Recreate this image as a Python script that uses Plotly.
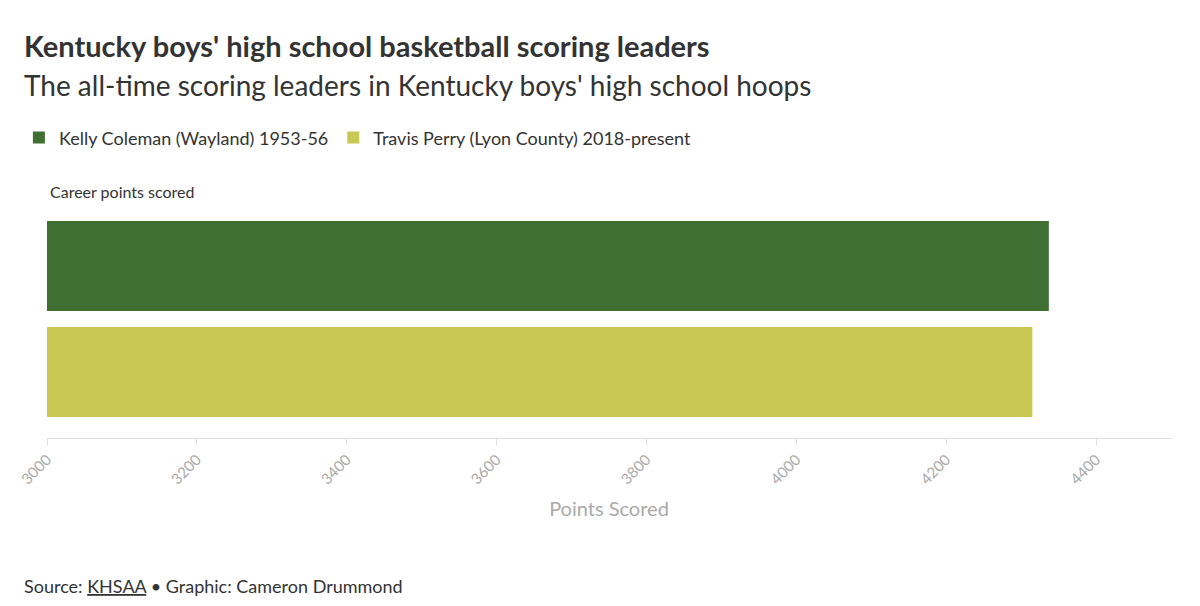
import plotly.graph_objects as go

players = ["Kelly Coleman (Wayland) 1953-56", "Travis Perry (Lyon County) 2018-present"]
points = [4337, 4315]
colors = ["#3f6f33", "#c8c853"]
tick_vals = [3000, 3200, 3400, 3600, 3800, 4000, 4200, 4400]

fig = go.Figure()
for i, (name, pts, col) in enumerate(zip(players, points, colors)):
    fig.add_trace(go.Bar(
        x=[pts - 3000], base=[3000], y=[i], orientation="h", name=name,
        marker=dict(color=col, line=dict(width=0)), width=0.85,
        hovertemplate="%{x}<extra></extra>",
    ))

fig.update_layout(
    width=1200, height=606,
    paper_bgcolor="white", plot_bgcolor="white",
    font=dict(family="Lato, Noto Sans, sans-serif", color="#333"),
    margin=dict(l=39, r=37, t=195, b=176, autoexpand=False),
    showlegend=True,
    legend=dict(orientation="h", x=-0.025, xanchor="left", y=1.277, yanchor="middle",
                font=dict(size=18, color="#333"), itemwidth=30, traceorder="normal"),
    xaxis=dict(range=[3000, 4500], tickvals=tick_vals, tickangle=-45, automargin=False,
               showgrid=False, zeroline=False, showline=True, linecolor="#ddd",
               ticks="outside", tickcolor="#ddd", ticklen=6,
               tickfont=dict(size=15, color="#aaa"),
               title=dict(text="Points Scored", font=dict(size=20, color="#aaa"), standoff=15)),
    yaxis=dict(range=[1.623, -0.594], showticklabels=False, showgrid=False, automargin=False,
               zeroline=False, showline=False),
    annotations=[
        dict(text="<b>Kentucky boys' high school basketball scoring leaders</b>",
             xref="paper", yref="paper", x=-0.022, y=1.672, xanchor="left", yanchor="middle",
             showarrow=False, font=dict(size=29, color="#333")),
        dict(text="The all-time scoring leaders in Kentucky boys' high school hoops",
             xref="paper", yref="paper", x=-0.022, y=1.502, xanchor="left", yanchor="middle",
             showarrow=False, font=dict(size=28, color="#333")),
        dict(text="Career points scored", xref="paper", yref="paper", x=0.001, y=1.0,
             xanchor="left", yanchor="bottom", showarrow=False, font=dict(size=16, color="#333")),
        dict(text="Source: <u>KHSAA</u> • Graphic: Cameron Drummond", xref="paper", yref="paper",
             x=-0.022, y=-0.63, xanchor="left", yanchor="middle", showarrow=False,
             font=dict(size=18, color="#333")),
    ],
)

fig.write_html("out.html")
